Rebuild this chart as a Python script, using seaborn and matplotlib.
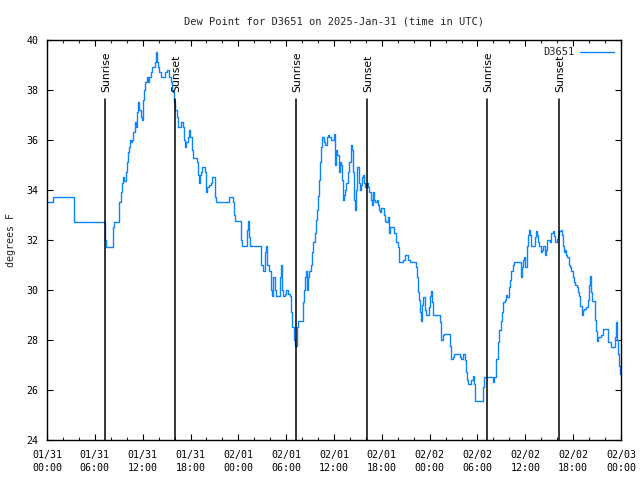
import matplotlib
matplotlib.use("Agg")
import matplotlib.pyplot as plt
import seaborn as sns
import pandas as pd

title = "Dew Point for D3651 on 2025-Jan-31 (time in UTC)"
series_name = "D3651"
y_label = "degrees F"

# hours since 2025-01-31 00:00 UTC
hours = [0.00, 0.63, 0.75, 3.17, 3.39, 7.24, 7.28, 7.31, 7.40, 8.19, 8.28, 8.40, 8.91, 9.03, 9.24, 9.37,
         9.50, 9.66, 9.87, 10.00, 10.16, 10.29, 10.41, 10.57, 10.70, 10.83, 11.00, 11.13, 11.16, 11.29,
         11.38, 11.58, 11.79, 11.92, 12.08, 12.21, 12.33, 12.51, 12.63, 12.83, 13.01, 13.17, 13.33, 13.51,
         13.67, 13.80, 13.92, 14.09, 14.30, 14.76, 14.84, 15.02, 15.18, 15.34, 15.52, 15.68, 15.77, 15.93,
         16.09, 16.22, 16.35, 16.47, 16.60, 16.77, 16.93, 17.06, 17.19, 17.31, 17.47, 17.65, 17.85, 17.98,
         18.15, 18.28, 18.60, 18.82, 18.94, 19.03, 19.15, 19.32, 19.44, 19.66, 19.82, 19.95, 20.07, 20.28,
         20.53, 20.74, 20.95, 21.11, 21.24, 22.74, 22.87, 23.08, 23.29, 23.42, 23.55, 24.25, 24.37, 24.50,
         25.00, 25.13, 25.25, 25.38, 25.50, 26.72, 26.88, 27.06, 27.22, 27.38, 27.51, 27.63, 27.81, 27.97,
         28.14, 28.26, 28.39, 28.56, 28.69, 29.06, 29.19, 29.32, 29.48, 29.60, 29.82, 30.02, 30.23, 30.44,
         30.65, 30.77, 30.95, 31.07, 31.23, 31.36, 31.49, 31.90, 32.08, 32.24, 32.40, 32.53, 32.65, 32.78,
         32.90, 33.08, 33.24, 33.40, 33.58, 33.71, 33.83, 33.99, 34.16, 34.28, 34.41, 34.53, 34.71, 34.91,
         35.04, 35.16, 35.25, 35.41, 35.59, 35.75, 36.00, 36.16, 36.29, 36.42, 36.59, 36.72, 36.84, 37.00,
         37.13, 37.26, 37.42, 37.54, 37.72, 37.92, 38.10, 38.22, 38.35, 38.51, 38.64, 38.76, 38.92, 39.10,
         39.23, 39.35, 39.51, 39.68, 39.80, 39.93, 40.10, 40.27, 40.43, 40.60, 40.77, 40.89, 41.02, 41.18,
         41.36, 41.48, 41.61, 41.77, 41.93, 42.11, 42.27, 42.40, 42.56, 42.74, 42.90, 43.06, 43.36, 43.49,
         43.74, 43.99, 44.15, 44.49, 44.69, 44.91, 45.12, 45.28, 45.53, 46.12, 46.29, 46.37, 46.50, 46.63,
         46.79, 46.91, 47.04, 47.20, 47.38, 47.54, 47.71, 47.88, 48.04, 48.17, 48.29, 48.46, 49.13, 49.30,
         49.46, 49.64, 49.80, 50.39, 50.55, 50.72, 50.89, 51.09, 51.31, 51.64, 51.81, 51.97, 52.15, 52.22,
         52.40, 52.52, 52.65, 52.81, 52.97, 53.15, 53.40, 53.53, 53.69, 54.53, 54.65, 54.82, 55.78, 55.91,
         56.11, 56.29, 56.41, 56.61, 56.74, 56.91, 57.08, 57.24, 57.41, 57.58, 57.74, 57.92, 58.08, 58.24,
         58.42, 58.58, 59.25, 59.46, 59.58, 59.75, 59.87, 60.00, 60.17, 60.30, 60.46, 60.59, 60.75, 61.00,
         61.18, 61.30, 61.43, 61.59, 61.75, 61.93, 62.09, 62.26, 62.43, 62.59, 62.76, 62.93, 63.10, 63.26,
         63.43, 63.60, 63.76, 63.94, 64.10, 64.26, 64.44, 64.56, 64.69, 64.82, 64.94, 65.10, 65.27, 65.44,
         65.61, 65.77, 65.94, 66.11, 66.27, 66.45, 66.61, 66.77, 66.90, 67.07, 67.20, 67.36, 67.61, 67.86,
         67.99, 68.11, 68.24, 68.40, 68.53, 68.70, 68.87, 69.03, 69.16, 69.37, 69.53, 69.71, 70.21, 70.37,
         70.54, 70.71, 71.04, 71.25, 71.34, 71.46, 71.63, 71.79, 71.88]

dew_point = [33.5, 33.5, 33.7, 33.7, 32.7, 32.7, 32.5, 32.0, 31.7, 31.7, 32.5, 32.7, 32.7, 33.5, 33.9, 34.3,
             34.5, 34.35, 34.7, 35.1, 35.5, 35.7, 36.0, 35.9, 36.0, 36.3, 36.7, 36.6, 36.5, 37.1,
             37.5, 37.2, 36.9, 36.8, 37.6, 38.0, 38.3, 38.5, 38.3, 38.5, 38.7, 38.9, 38.9, 39.1,
             39.5, 39.1, 38.9, 38.7, 38.5, 38.5, 38.7, 38.8, 38.8, 38.5, 38.3, 38.0, 37.9, 37.5,
             37.2, 37.2, 36.9, 36.5, 36.5, 36.7, 36.7, 36.5, 36.0, 35.7, 35.9, 36.1, 36.4, 36.1,
             35.6, 35.3, 35.3, 35.1, 34.6, 34.3, 34.6, 34.7, 34.9, 34.9, 34.7, 33.9, 34.1, 34.2,
             34.3, 34.5, 34.5, 33.7, 33.5, 33.5, 33.7, 33.7, 33.5, 33.0, 32.75, 32.75, 32.0, 31.75,
             31.75, 32.4, 32.75, 32.1, 31.75, 31.75, 31.0, 30.75, 30.75, 31.5, 31.75, 31.0, 30.75, 30.75,
             30.0, 29.75, 30.5, 30.0, 29.75, 29.75, 30.5, 31.0, 30.0, 29.75, 29.85, 30.0, 29.85, 29.75,
             29.1, 28.5, 28.0, 27.75, 27.75, 28.5, 28.75, 28.75, 29.5, 30.0, 30.5, 30.75, 30.0, 30.5,
             30.75, 31.0, 31.5, 31.9, 32.3, 32.8, 33.2, 33.75, 34.4, 35.1, 35.7, 36.1, 35.9, 35.8,
             35.8, 36.1, 36.2, 36.1, 36.0, 36.0, 36.25, 35.0, 35.6, 35.4, 34.7, 35.1, 35.0, 34.4,
             33.6, 33.8, 34.0, 34.3, 34.7, 35.1, 35.8, 35.6, 34.7, 33.6, 33.2, 34.0, 34.9, 34.3,
             34.0, 34.2, 34.5, 34.6, 34.3, 34.1, 34.3, 34.1, 33.9, 33.6, 33.4, 33.9, 33.6, 33.5,
             33.6, 33.4, 33.2, 33.1, 33.3, 33.3, 33.0, 32.75, 32.7, 32.9, 32.3, 32.5, 32.5, 32.3,
             31.9, 31.7, 31.1, 31.1, 31.2, 31.4, 31.4, 31.2, 31.1, 31.1, 30.9, 30.5, 29.9, 29.6,
             29.1, 28.75, 29.4, 29.7, 29.2, 29.0, 29.0, 29.3, 29.75, 29.95, 29.5, 29.0, 29.0, 28.7,
             28.0, 28.2, 28.25, 28.25, 27.75, 27.25, 27.3, 27.45, 27.45, 27.45, 27.3, 27.25, 27.3, 27.45,
             27.2, 26.7, 26.4, 26.25, 26.25, 26.4, 26.55, 26.25, 25.55, 25.55, 26.1, 26.5, 26.5, 26.3,
             26.5, 27.25, 27.25, 27.9, 28.4, 28.75, 29.1, 29.5, 29.6, 29.8, 29.7, 30.1, 30.4, 30.75,
             31.0, 31.1, 31.1, 30.5, 30.9, 31.2, 31.3, 30.9, 31.75, 32.2, 32.4, 32.2, 31.75, 31.75,
             32.1, 32.35, 32.2, 31.9, 31.75, 31.5, 31.6, 31.75, 31.4, 31.6, 32.0, 32.0, 31.9, 32.3,
             32.35, 32.15, 31.9, 32.05, 32.2, 32.35, 32.4, 32.2, 31.75, 31.5, 31.6, 31.4, 31.3, 31.0,
             30.9, 30.75, 30.5, 30.3, 30.2, 30.1, 29.9, 29.75, 29.35, 29.0, 29.2, 29.25, 29.3, 29.6,
             30.2, 30.55, 29.9, 29.55, 29.55, 28.8, 28.35, 27.95, 28.1, 28.1, 28.2, 28.45, 28.45, 27.9,
             27.9, 27.7, 27.7, 28.1, 28.7, 28.0, 27.45, 26.95, 26.65]

sun_hours = [7.33, 16.10, 31.27, 40.18, 55.23, 64.26]
sun_labels = ["Sunrise", "Sunset", "Sunrise", "Sunset", "Sunrise", "Sunset"]

tick_hours = [0, 6, 12, 18, 24, 30, 36, 42, 48, 54, 60, 66, 72]
tick_labels = ["01/31\n00:00", "01/31\n06:00", "01/31\n12:00", "01/31\n18:00",
               "02/01\n00:00", "02/01\n06:00", "02/01\n12:00", "02/01\n18:00",
               "02/02\n00:00", "02/02\n06:00", "02/02\n12:00", "02/02\n18:00",
               "02/03\n00:00"]
y_ticks = [24, 26, 28, 30, 32, 34, 36, 38, 40]

sns.set_theme(style="white")
plt.rcParams["font.family"] = ["DejaVu Sans Mono", "DejaVu Sans"]

df = pd.DataFrame({"hour": hours, "dew": dew_point})

fig = plt.figure(figsize=(6.4, 4.8), dpi=100)
ax = fig.add_axes([47 / 640, 1 - 440 / 480, 574 / 640, 400 / 480])

sns.lineplot(data=df, x="hour", y="dew", ax=ax, color="#0a84ff", linewidth=1.0,
             drawstyle="steps-post", estimator=None, label=series_name)

for h, lab in zip(sun_hours, sun_labels):
    ax.plot([h, h], [24, 37.64], color="black", linewidth=1.1)
    ax.text(h + 0.1, 37.92, lab, rotation=90, ha="center", va="bottom",
            fontsize=7.8, family=["DejaVu Sans"], color="black")

ax.set_xlim(0, 72)
ax.set_ylim(24, 40)
ax.set_xticks(tick_hours)
ax.set_xticklabels(tick_labels, fontsize=7.2, linespacing=1.45)
ax.set_xticks(list(range(0, 73, 2)), minor=True)
ax.set_yticks(y_ticks)
ax.set_yticklabels([str(v) for v in y_ticks], fontsize=7.2)
ax.tick_params(axis="x", which="major", direction="in", length=4, width=0.8,
               top=True, bottom=True, pad=7, colors="black")
ax.tick_params(axis="y", which="major", direction="in", length=4, width=0.8,
               left=True, right=True, pad=6, colors="black")
ax.tick_params(axis="x", which="minor", direction="in", length=2.5, width=0.8,
               top=True, bottom=True)
ax.set_xlabel("")
ax.set_ylabel(y_label, fontsize=7.2, labelpad=8)
for s in ax.spines.values():
    s.set_color("black")
    s.set_linewidth(1.0)
    s.set_visible(True)

ax.set_title(title, fontsize=7.5, pad=11)

leg = ax.legend(loc="upper right", frameon=False, markerfirst=False, fontsize=7.5,
                handlelength=3.2, borderaxespad=0.3, handletextpad=0.6)

fig.savefig("out.png", dpi=100)
